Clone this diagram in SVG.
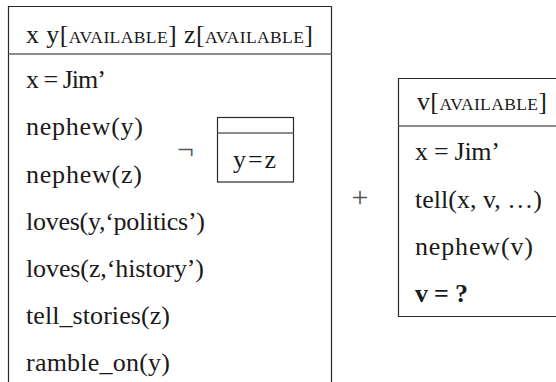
<svg xmlns="http://www.w3.org/2000/svg" width="556" height="382" viewBox="0 0 556 382">
<style>
.t{font-family:"Liberation Serif","Times New Roman",serif;font-size:26px;fill:#1a1a1a}
.sc{font-size:17.5px}
.b{font-weight:bold}
.op{font-family:"Liberation Serif","Times New Roman",serif;fill:#555}
.border{fill:none;stroke:#2a2a2a;stroke-width:1.2}
.sep{fill:none;stroke:#666;stroke-width:1.4}
</style>
<rect width="556" height="382" fill="#fff"/>
<g id="connectors"/>
<g id="drs-main">
  <path class="border" d="M8.5,390 V6.5 H331.5 V390"/>
  <line class="sep" x1="8.5" y1="54" x2="331.5" y2="54"/>
  <text class="t" x="26" y="43" textLength="287">x y[<tspan class="sc">AVAILABLE</tspan>] z[<tspan class="sc">AVAILABLE</tspan>]</text>
  <text class="t" x="26" y="88" textLength="80">x = Jim’</text>
  <text class="t" x="26" y="135" textLength="117">nephew(y)</text>
  <text class="t" x="26" y="183" textLength="116">nephew(z)</text>
  <text class="t" x="26" y="230" textLength="179">loves(y,‘politics’)</text>
  <text class="t" x="26" y="277" textLength="178">loves(z,‘history’)</text>
  <text class="t" x="26" y="324" textLength="144">tell_stories(z)</text>
  <text class="t" x="26" y="371" textLength="144">ramble_on(y)</text>
</g>
<g id="op-neg">
  <text class="op" x="177" y="159" font-size="30">¬</text>
</g>
<g id="drs-neg">
  <rect class="border" x="217.5" y="117.5" width="76" height="64.5"/>
  <line class="sep" x1="217.5" y1="133" x2="293.5" y2="133"/>
  <text class="t" x="233" y="168" textLength="43">y=z</text>
</g>
<g id="op-plus">
  <text class="op" x="360" y="207" font-size="30" text-anchor="middle">+</text>
</g>
<g id="drs-right">
  <path class="border" d="M570,78.5 H398.5 V316.5 H570"/>
  <line class="sep" x1="398.5" y1="126" x2="570" y2="126"/>
  <text class="t" x="417" y="110" textLength="130">v[<tspan class="sc">AVAILABLE</tspan>]</text>
  <text class="t" x="415" y="160" textLength="85">x = Jim’</text>
  <text class="t" x="415" y="208" textLength="127">tell(x, v, …)</text>
  <text class="t" x="415" y="255" textLength="118">nephew(v)</text>
  <text class="t b" x="415" y="302" textLength="53">v = ?</text>
</g>
</svg>
